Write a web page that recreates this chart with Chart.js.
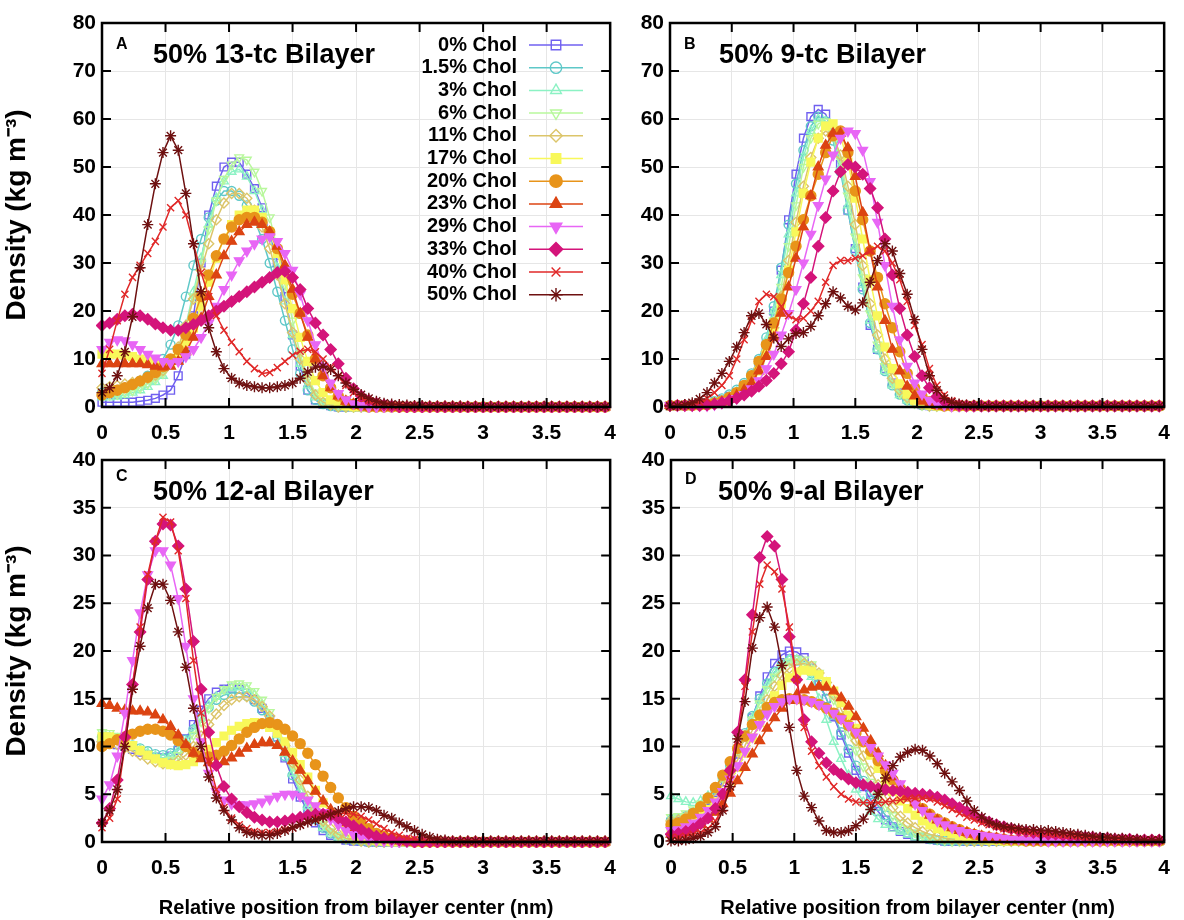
<!DOCTYPE html>
<html>
<head>
<meta charset="utf-8">
<title>Density profiles</title>
<script src="https://cdn.jsdelivr.net/npm/chart.js@4.4.1/dist/chart.umd.min.js"></script>
<style>
  html, body { margin: 0; padding: 0; background: #fff; }
  body { width: 1184px; height: 920px; overflow: hidden; position: relative; }
  .panel { position: absolute; }
</style>
</head>
<body>
<div class="panel" style="left:0;top:0"><canvas id="chartA" width="630" height="460"></canvas></div>
<div class="panel" style="left:555px;top:0"><canvas id="chartB" width="629" height="460"></canvas></div>
<div class="panel" style="left:0;top:430px"><canvas id="chartC" width="630" height="490"></canvas></div>
<div class="panel" style="left:555px;top:430px"><canvas id="chartD" width="629" height="490"></canvas></div>
<script>
// distance from bilayer centre (nm), shared by every series
const xs = [0,0.06,0.12,0.18,0.24,0.3,0.36,0.42,0.48,0.54,
  0.6,0.66,0.72,0.78,0.84,0.9,0.96,1.02,1.08,1.14,
  1.2,1.26,1.32,1.38,1.44,1.5,1.56,1.62,1.68,1.74,
  1.8,1.86,1.92,1.98,2.04,2.1,2.16,2.22,2.28,2.34,
  2.4,2.46,2.52,2.58,2.64,2.7,2.76,2.82,2.88,2.94,
  3,3.06,3.12,3.18,3.24,3.3,3.36,3.42,3.48,3.54,
  3.6,3.66,3.72,3.78,3.84,3.9,3.96];

const cholLabels = ["0% Chol","1.5% Chol","3% Chol","6% Chol","11% Chol","17% Chol",
  "20% Chol","23% Chol","29% Chol","33% Chol","40% Chol","50% Chol"];

// ---- A: 50% 13-tc bilayer ----
const A0 = [1,1,1,1,1,1.2,1.4,1.8,2.5,3.5,
  6.5,11,19,30,40,46,50,51,51,48.5,
  45.5,41.5,36,30,23,15,8.5,3.5,1.5,0.6,
  0.3,0,0,0,0,0,0,0,0,0,
  0,0,0,0,0,0,0,0,0,0,
  0,0,0,0,0,0,0,0,0,0,
  0,0,0,0,0,0,0];
const A1_5 = [3,3.2,3.5,4,4.6,5.5,6.5,8,10,13,
  17,23,29.5,35,39.5,43,45,45,44,42,
  39,35,30,24,18,12,7,3.5,1.5,0.6,
  0.2,0,0,0,0,0,0,0,0,0,
  0,0,0,0,0,0,0,0,0,0,
  0,0,0,0,0,0,0,0,0,0,
  0,0,0,0,0,0,0];
const A3 = [2,2,2.2,2.5,3,3.5,4.2,5.2,6.5,8.5,
  12,17,24,31,38,43.5,47,49,49.5,48,
  45,41,35.5,29,22,15,9,4.5,2,0.8,
  0.3,0,0,0,0,0,0,0,0,0,
  0,0,0,0,0,0,0,0,0,0,
  0,0,0,0,0,0,0,0,0,0,
  0,0,0,0,0,0,0];
const A6 = [2.5,2.5,2.7,3,3.4,4,4.8,5.8,7,9,
  12,16.5,23,30,37,43,47.5,50.5,52,51.5,
  49,45,39.5,33,25.5,18,11,6,3,1.2,
  0.5,0.2,0,0,0,0,0,0,0,0,
  0,0,0,0,0,0,0,0,0,0,
  0,0,0,0,0,0,0,0,0,0,
  0,0,0,0,0,0,0];
const A11 = [4,4.2,4.5,4.8,5.1,5.5,6,6.6,7.6,9.2,
  12.5,17,22.5,28.5,34,39,42.5,44.5,44.5,43.5,
  41,37.5,33,27.5,21.5,15.5,10,5.5,2.5,1,
  0.4,0,0,0,0,0,0,0,0,0,
  0,0,0,0,0,0,0,0,0,0,
  0,0,0,0,0,0,0,0,0,0,
  0,0,0,0,0,0,0];
const A17 = [11,11,11,10.8,10.5,10,9.5,9,8.8,9.2,
  10.5,13,16.5,21,26,31,35,38,40,41,
  41,39.5,36.5,32,26.5,20.5,14.5,9.5,5.5,3,
  1.5,0.7,0.3,0,0,0,0,0,0,0,
  0,0,0,0,0,0,0,0,0,0,
  0,0,0,0,0,0,0,0,0,0,
  0,0,0,0,0,0,0];
const A20 = [2.5,3,3.5,4,4.7,5.4,6.2,7.2,8.4,10,
  12,15,18.5,23,27.5,31.5,35,37.5,39,39.5,
  39.5,38.5,36.5,33,28.5,23.5,19.5,15,10,6.5,
  4,2.3,1.2,0.6,0.3,0,0,0,0,0,
  0,0,0,0,0,0,0,0,0,0,
  0,0,0,0,0,0,0,0,0,0,
  0,0,0,0,0,0,0];
const A23 = [9,9,9,9,9,9,8.8,8.5,8.3,8.5,
  9.5,11.5,14.5,18.5,23,27.5,31.5,34.5,36.5,38,
  38.5,38,36.5,33.5,29.5,24.5,19.5,14.5,10,6.5,
  4,2.3,1.2,0.6,0.3,0,0,0,0,0,
  0,0,0,0,0,0,0,0,0,0,
  0,0,0,0,0,0,0,0,0,0,
  0,0,0,0,0,0,0];
const A29 = [12,13.5,14,13.8,13,12,11,10.2,9.5,9.2,
  9.5,10.5,12,14.5,17.5,21,24.5,27.5,30.5,32.5,
  34,35,35.5,34.5,32,28.5,23.5,18,13,8.5,
  5,2.8,1.5,0.7,0.3,0,0,0,0,0,
  0,0,0,0,0,0,0,0,0,0,
  0,0,0,0,0,0,0,0,0,0,
  0,0,0,0,0,0,0];
const A33 = [17,17.5,18.3,19,19.3,19,18.3,17.3,16.5,16,
  16,16.5,17.2,18,19,20,21,22,23,24,
  25,26,27,28,28.3,27,24.5,20.5,17.5,15,
  12,9,6,3.8,2.3,1.4,0.8,0.4,0.2,0,
  0,0,0,0,0,0,0,0,0,0,
  0,0,0,0,0,0,0,0,0,0,
  0,0,0,0,0,0,0];
const A40 = [7,12,18,23.5,27,29.5,32,34.5,37.5,41.5,
  43,40,34,28,23,19,16,13.5,11.5,9.5,
  8,7,7.2,8.2,9.5,10.8,11.6,12,11.5,10,
  8.3,6.3,4.5,3,2,1.3,0.8,0.5,0.3,0.2,
  0.1,0.1,0,0,0,0,0,0,0,0,
  0,0,0,0,0,0,0,0,0,0,
  0,0,0,0,0,0,0];
const A50 = [3,4,6.5,11.5,18.8,29,38,46.5,53,56.5,
  53.5,44.5,34,24,16.5,11.5,8,6,5,4.5,
  4.2,4,4,4.2,4.5,5,6,7.3,8.3,8.5,
  7.8,6.5,5,3.7,2.6,1.8,1.2,0.8,0.6,0.5,
  0.4,0.3,0.3,0.2,0.2,0.2,0.2,0.2,0.1,0.1,
  0.1,0.1,0.1,0.1,0.1,0.1,0.1,0.1,0.1,0.1,
  0.1,0.1,0.1,0.1,0.1,0.1,0.1];

// ---- B: 50% 9-tc bilayer ----
const B0 = [0.3,0.3,0.3,0.4,0.5,0.7,1,1.5,2.2,3,
  4,6,8.5,13,20,28.5,39,48.5,56,60.5,
  62,61,57,50.5,41,33,25,17,12,8,
  5,3,1.7,0.9,0.5,0.3,0.2,0.2,0.2,0.2,
  0.2,0.2,0.2,0.2,0.2,0.2,0.2,0.2,0.2,0.2,
  0.2,0.2,0.2,0.2,0.2,0.2,0.2,0.2,0.2,0.2,
  0.2,0.2,0.2,0.2,0.2,0.2,0.2];
const B1_5 = [0.3,0.3,0.3,0.4,0.6,0.8,1.2,1.8,2.6,3.6,
  5,7,10,14.5,21,29,38,46.5,53.5,58.5,
  60.5,59.5,55.5,49,41,32.5,24.5,17.5,12,7.5,
  4.5,2.6,1.4,0.8,0.4,0.3,0.2,0.2,0.2,0.2,
  0.2,0.2,0.2,0.2,0.2,0.2,0.2,0.2,0.2,0.2,
  0.2,0.2,0.2,0.2,0.2,0.2,0.2,0.2,0.2,0.2,
  0.2,0.2,0.2,0.2,0.2,0.2,0.2];
const B3 = [0.3,0.3,0.3,0.4,0.5,0.7,1,1.5,2.2,3.2,
  4.5,6.5,9.5,14,20,27.5,36,44.5,52,57.5,
  60,59.5,56,50,42,33.5,25.5,18,12,7.5,
  4.5,2.5,1.4,0.8,0.4,0.2,0.2,0.2,0.2,0.2,
  0.2,0.2,0.2,0.2,0.2,0.2,0.2,0.2,0.2,0.2,
  0.2,0.2,0.2,0.2,0.2,0.2,0.2,0.2,0.2,0.2,
  0.2,0.2,0.2,0.2,0.2,0.2,0.2];
const B6 = [0.3,0.3,0.3,0.3,0.4,0.6,0.9,1.3,2,2.8,
  4,5.8,8.5,12.5,18,25,33.5,42,50,56,
  59,59.5,57,51.5,44,35.5,27,19.5,13,8.5,
  5,2.8,1.5,0.8,0.4,0.2,0.2,0.2,0.2,0.2,
  0.2,0.2,0.2,0.2,0.2,0.2,0.2,0.2,0.2,0.2,
  0.2,0.2,0.2,0.2,0.2,0.2,0.2,0.2,0.2,0.2,
  0.2,0.2,0.2,0.2,0.2,0.2,0.2];
const B11 = [0.3,0.3,0.3,0.3,0.4,0.6,0.9,1.3,2,2.8,
  4,5.5,8,11.5,16.5,23,30.5,38.5,46,52,
  56,57.5,56.5,52.5,46,38,29.5,21.5,15,10,
  6,3.5,2,1,0.5,0.2,0.2,0.2,0.2,0.2,
  0.2,0.2,0.2,0.2,0.2,0.2,0.2,0.2,0.2,0.2,
  0.2,0.2,0.2,0.2,0.2,0.2,0.2,0.2,0.2,0.2,
  0.2,0.2,0.2,0.2,0.2,0.2,0.2];
const B17 = [0.3,0.3,0.3,0.3,0.4,0.5,0.8,1.2,1.8,2.6,
  3.7,5.2,7.5,11,15.5,21.5,28.5,36.5,44.5,51,
  56,58.5,59,56.5,51,43.5,35,26.5,19,12.5,
  8,4.8,2.7,1.4,0.7,0.4,0.2,0.2,0.2,0.2,
  0.2,0.2,0.2,0.2,0.2,0.2,0.2,0.2,0.2,0.2,
  0.2,0.2,0.2,0.2,0.2,0.2,0.2,0.2,0.2,0.2,
  0.2,0.2,0.2,0.2,0.2,0.2,0.2];
const B20 = [0.3,0.3,0.3,0.3,0.4,0.5,0.8,1.2,2,3,
  4.5,6.5,9.5,13,17.5,22.5,28,33.5,39,44,
  48.5,53,56.5,57.5,53,45,39,32.5,27,21.5,
  16.5,11.5,7,4,2.2,1.1,0.5,0.2,0.2,0.2,
  0.2,0.2,0.2,0.2,0.2,0.2,0.2,0.2,0.2,0.2,
  0.2,0.2,0.2,0.2,0.2,0.2,0.2,0.2,0.2,0.2,
  0.2,0.2,0.2,0.2,0.2,0.2,0.2];
const B23 = [0.3,0.3,0.3,0.3,0.4,0.5,0.7,1,1.6,2.4,
  3.5,5,7.5,10.5,14.5,19.5,25,31,37.5,44,
  50,54.5,57,57,54,48,40.5,32.5,25,18,
  12,7.5,4.3,2.3,1.2,0.6,0.3,0.2,0.2,0.2,
  0.2,0.2,0.2,0.2,0.2,0.2,0.2,0.2,0.2,0.2,
  0.2,0.2,0.2,0.2,0.2,0.2,0.2,0.2,0.2,0.2,
  0.2,0.2,0.2,0.2,0.2,0.2,0.2];
const B29 = [0.3,0.3,0.3,0.3,0.3,0.3,0.5,0.8,1.2,1.8,
  2.6,3.8,5.5,8,11,15,19.5,24.5,30,36,
  42,47.5,52.5,56,57.5,57,53.5,47,38.5,29.5,
  21,14,8.5,5,2.7,1.4,0.7,0.4,0.2,0.2,
  0.2,0.2,0.2,0.2,0.2,0.2,0.2,0.2,0.2,0.2,
  0.2,0.2,0.2,0.2,0.2,0.2,0.2,0.2,0.2,0.2,
  0.2,0.2,0.2,0.2,0.2,0.2,0.2];
const B33 = [0.3,0.3,0.3,0.3,0.3,0.4,0.6,0.9,1.3,1.8,
  2.5,3.3,4.3,5.5,7,9,11.5,16,21.5,27,
  33.5,39.5,45,49,50.5,50,48.5,45.5,41.5,35,
  27.5,20.5,15,10.5,6.5,4,2.2,1.2,0.6,0.3,
  0.2,0.2,0.2,0.2,0.2,0.2,0.2,0.2,0.2,0.2,
  0.2,0.2,0.2,0.2,0.2,0.2,0.2,0.2,0.2,0.2,
  0.2,0.2,0.2,0.2,0.2,0.2,0.2];
const B40 = [0.2,0.2,0.3,0.5,1,1.8,3,4.5,6.5,10,
  14,18,22,23.5,23,21,19,18.2,18.5,20,
  22,26,29.5,30.5,30.5,31,31.5,32.5,33.5,32.5,
  30,26.5,22,17,13,8,4.5,2.5,1.3,0.7,
  0.4,0.2,0.2,0.2,0.2,0.2,0.2,0.2,0.2,0.2,
  0.2,0.2,0.2,0.2,0.2,0.2,0.2,0.2,0.2,0.2,
  0.2,0.2,0.2,0.2,0.2,0.2,0.2];
const B50 = [0.2,0.3,0.5,0.9,1.7,3,5,7,9.5,12.5,
  15.5,19,19.5,17.2,14.4,12.6,14.2,15.3,15.5,16.8,
  19,21.5,24,22.7,21,20.2,21.7,26,30.5,34,
  32.5,27.8,23.5,18.2,12,6.5,3.5,1.8,1,0.6,
  0.4,0.3,0.2,0.2,0.2,0.2,0.2,0.2,0.2,0.2,
  0.2,0.2,0.2,0.2,0.2,0.2,0.2,0.2,0.2,0.2,
  0.2,0.2,0.2,0.2,0.2,0.2,0.2];

// ---- C: 50% 12-al bilayer ----
const C0 = [10.5,10.4,10.2,10,9.7,9.4,9.1,8.9,8.8,9,
  9.6,10.8,12.3,13.8,15,15.7,16,16.1,16,15.6,
  14.9,14,12.8,11,8.8,6.6,4.7,3.2,2,1.2,
  0.7,0.4,0.2,0.1,0.1,0,0,0,0,0,
  0,0,0,0,0,0,0,0,0,0,
  0,0,0,0,0,0,0,0,0,0,
  0,0,0,0,0,0,0];
const C1_5 = [11,10.9,10.7,10.4,10.1,9.8,9.5,9.2,9.1,9.3,
  9.8,10.7,11.8,13,14.1,14.9,15.4,15.6,15.6,15.3,
  14.7,13.8,12.5,10.9,9,7,5.2,3.6,2.4,1.5,
  0.9,0.5,0.3,0.2,0.1,0,0,0,0,0,
  0,0,0,0,0,0,0,0,0,0,
  0,0,0,0,0,0,0,0,0,0,
  0,0,0,0,0,0,0];
const C3 = [11,11,10.8,10.5,10.1,9.7,9.3,9,8.8,9,
  9.6,10.5,11.7,13,14.3,15.2,15.8,16.1,16.2,16,
  15.4,14.4,13,11.2,9.2,7.2,5.3,3.7,2.4,1.5,
  0.9,0.5,0.3,0.2,0.1,0,0,0,0,0,
  0,0,0,0,0,0,0,0,0,0,
  0,0,0,0,0,0,0,0,0,0,
  0,0,0,0,0,0,0];
const C6 = [11.5,11.4,11.1,10.7,10.2,9.7,9.2,8.8,8.5,8.6,
  9.1,10,11.2,12.6,14,15.2,16,16.5,16.6,16.4,
  15.8,14.9,13.6,11.9,10,8,6.1,4.4,3,1.9,
  1.1,0.6,0.3,0.2,0.1,0,0,0,0,0,
  0,0,0,0,0,0,0,0,0,0,
  0,0,0,0,0,0,0,0,0,0,
  0,0,0,0,0,0,0];
const C11 = [10.5,10.4,10.2,9.9,9.5,9.1,8.7,8.4,8.2,8.2,
  8.5,9.1,10,11.1,12.3,13.4,14.3,14.9,15.2,15.2,
  14.9,14.2,13.2,11.8,10.1,8.3,6.5,4.8,3.4,2.2,
  1.4,0.8,0.4,0.2,0.1,0,0,0,0,0,
  0,0,0,0,0,0,0,0,0,0,
  0,0,0,0,0,0,0,0,0,0,
  0,0,0,0,0,0,0];
const C17 = [11,11,10.8,10.5,10.1,9.6,9.1,8.7,8.3,8.1,
  8,8.1,8.4,9,9.7,10.4,11.1,11.7,12.1,12.4,
  12.5,12.4,12,11.4,10.5,9.4,8.1,6.8,5.4,4.1,
  3,2.1,1.4,0.9,0.5,0.3,0.2,0.1,0,0,
  0,0,0,0,0,0,0,0,0,0,
  0,0,0,0,0,0,0,0,0,0,
  0,0,0,0,0,0,0];
const C20 = [10,10.3,10.7,11,11.3,11.6,11.8,11.8,11.6,11.2,
  10.6,10,9.4,9,8.9,9.1,9.5,10.1,10.8,11.5,
  12,12.4,12.5,12.3,11.8,11.1,10.3,9.3,8.1,6.9,
  5.7,4.6,3.6,2.7,2,1.4,0.9,0.6,0.4,0.2,
  0.1,0,0,0,0,0,0,0,0,0,
  0,0,0,0,0,0,0,0,0,0,
  0,0,0,0,0,0,0];
const C23 = [14.5,14.3,14,13.8,13.7,13.7,13.6,13.3,12.8,12.1,
  11.2,10.2,9.3,8.7,8.3,8.2,8.4,8.8,9.3,9.8,
  10.2,10.4,10.4,10.1,9.4,8.5,7.5,6.4,5.3,4.3,
  3.4,2.6,2,1.4,1,0.7,0.4,0.3,0.2,0.1,
  0,0,0,0,0,0,0,0,0,0,
  0,0,0,0,0,0,0,0,0,0,
  0,0,0,0,0,0,0];
const C29 = [4.5,6,9,13.5,19,24,28,30.5,30.5,29,
  25.5,20.5,15,10.5,7.2,5.3,4.4,4,3.9,3.9,
  4,4.2,4.5,4.8,5,5,4.8,4.4,3.8,3.1,
  2.4,1.8,1.2,0.8,0.5,0.3,0.2,0.1,0,0,
  0,0,0,0,0,0,0,0,0,0,
  0,0,0,0,0,0,0,0,0,0,
  0,0,0,0,0,0,0];
const C33 = [2,3.5,6.5,11,16.5,22,27.5,31.5,33.3,33.2,
  31,26.5,21,16,11.5,8,5.8,4.5,3.7,3.1,
  2.6,2.3,2.1,2.1,2.2,2.4,2.6,2.8,2.9,2.9,
  2.8,2.5,2.1,1.7,1.3,0.9,0.6,0.4,0.3,0.2,
  0.1,0,0,0,0,0,0,0,0,0,
  0,0,0,0,0,0,0,0,0,0,
  0,0,0,0,0,0,0];
const C40 = [1.5,2.5,4.5,10,16,22.5,28,31.5,34,33.5,
  30.5,25.5,19,13.5,8.5,5.5,3.6,2.5,1.8,1.4,
  1.1,1,1,1.1,1.3,1.5,1.8,2.1,2.4,2.7,
  2.9,3,3,2.9,2.7,2.3,1.9,1.4,1,0.7,
  0.4,0.3,0.2,0.1,0.1,0,0,0,0,0,
  0,0,0,0,0,0,0,0,0,0,
  0,0,0,0,0,0,0];
const C50 = [2,3.3,5.5,10,16,20.5,24.5,27,27,25.3,
  22,18.3,14,10,6.8,4.6,3.3,2.3,1.5,1,
  0.8,0.7,0.7,0.9,1.2,1.5,1.8,2.1,2.3,2.6,
  2.9,3.2,3.5,3.7,3.7,3.6,3.3,2.8,2.5,2,
  1.6,1.2,0.8,0.5,0.3,0.2,0.1,0.1,0.1,0.1,
  0.1,0.1,0.1,0.1,0.1,0.1,0.1,0.1,0.1,0.1,
  0.1,0.1,0.1,0.1,0.1,0.1,0.1];

// ---- D: 50% 9-al bilayer ----
const D0 = [2,2.2,2.5,3,3.6,4.3,5.2,6.3,7.6,9.2,
  11,13,15.3,17.3,18.7,19.6,20,19.9,19.3,18.2,
  16.8,15,13.1,11.2,9.3,7.5,5.8,4.4,3.2,2.3,
  1.6,1.1,0.8,0.6,0.4,0.3,0.2,0.1,0.1,0.1,
  0.1,0.1,0.1,0.1,0.1,0.1,0.1,0.1,0.1,0.1,
  0.1,0.1,0.1,0.1,0.1,0.1,0.1,0.1,0.1,0.1,
  0.1,0.1,0.1,0.1,0.1,0.1,0.1];
const D1_5 = [2.3,2.4,2.7,3.1,3.7,4.5,5.5,6.7,8.1,9.7,
  11.4,13.2,15,16.6,17.8,18.6,19,19,18.6,17.7,
  16.5,15,13.3,11.5,9.7,8,6.4,5,3.8,2.8,
  2,1.4,1,0.7,0.5,0.3,0.2,0.1,0.1,0.1,
  0.1,0.1,0.1,0.1,0.1,0.1,0.1,0.1,0.1,0.1,
  0.1,0.1,0.1,0.1,0.1,0.1,0.1,0.1,0.1,0.1,
  0.1,0.1,0.1,0.1,0.1,0.1,0.1];
const D3 = [4.8,4.5,4.2,4.1,4.3,4.8,5.6,6.7,8,9.5,
  11.2,13,14.8,16.4,17.7,18.6,19.1,19.1,18.6,17.3,
  15,12.8,10.5,8.7,7,5.5,4.2,3.2,2.4,1.8,
  1.4,1.1,0.8,0.5,0.4,0.3,0.2,0.1,0.1,0.1,
  0.1,0.1,0.1,0.1,0.1,0.1,0.1,0.1,0.1,0.1,
  0.1,0.1,0.1,0.1,0.1,0.1,0.1,0.1,0.1,0.1,
  0.1,0.1,0.1,0.1,0.1,0.1,0.1];
const D6 = [2.6,2.7,3,3.4,4,4.7,5.6,6.7,8,9.5,
  11.1,12.8,14.5,16,17.3,18.3,18.9,19.2,19.1,18.6,
  17.7,16.4,14.9,13.2,11.4,9.6,7.9,6.3,4.9,3.7,
  2.8,2,1.4,1,0.7,0.5,0.3,0.2,0.1,0.1,
  0.1,0.1,0.1,0.1,0.1,0.1,0.1,0.1,0.1,0.1,
  0.1,0.1,0.1,0.1,0.1,0.1,0.1,0.1,0.1,0.1,
  0.1,0.1,0.1,0.1,0.1,0.1,0.1];
const D11 = [2.2,2.3,2.6,3,3.5,4.2,5,6,7.2,8.6,
  10.1,11.7,13.3,14.9,16.3,17.4,18.2,18.6,18.7,18.4,
  17.7,16.7,15.4,13.9,12.3,10.6,9,7.4,6,4.7,
  3.6,2.7,2,1.5,1.1,0.8,0.6,0.4,0.3,0.2,
  0.1,0.1,0.1,0.1,0.1,0.1,0.1,0.1,0.1,0.1,
  0.1,0.1,0.1,0.1,0.1,0.1,0.1,0.1,0.1,0.1,
  0.1,0.1,0.1,0.1,0.1,0.1,0.1];
const D17 = [1.5,1.6,1.9,2.3,2.8,3.4,4.2,5.2,6.4,7.8,
  9.3,10.9,12.5,14,15.3,16.4,17.2,17.8,18,17.9,
  17.5,16.8,15.8,14.6,13.3,11.9,10.5,9.1,7.7,6.4,
  5.3,4.3,3.5,2.8,2.2,1.8,1.4,1.1,0.9,0.7,
  0.5,0.4,0.3,0.2,0.2,0.1,0.1,0.1,0.1,0.1,
  0.1,0.1,0.1,0.1,0.1,0.1,0.1,0.1,0.1,0.1,
  0.1,0.1,0.1,0.1,0.1,0.1,0.1];
const D20 = [1.8,2,2.4,3,3.7,4.6,5.7,7,8.4,9.8,
  11.1,12.3,13.3,14.1,14.6,14.9,15,15,14.9,14.7,
  14.4,14,13.5,12.9,12.2,11.4,10.5,9.5,8.5,7.5,
  6.5,5.6,4.8,4.1,3.5,2.9,2.4,2,1.6,1.3,
  1,0.8,0.6,0.5,0.4,0.3,0.2,0.2,0.1,0.1,
  0.1,0.1,0.1,0.1,0.1,0.1,0.1,0.1,0.1,0.1,
  0.1,0.1,0.1,0.1,0.1,0.1,0.1];
const D23 = [0.8,0.9,1.1,1.4,1.8,2.4,3.1,4,5.1,6.4,
  7.8,9.2,10.6,11.9,13,14,14.8,15.4,15.9,16.2,
  16.3,16.2,15.8,15.1,14.2,13.1,11.9,10.6,9.3,8,
  6.8,5.8,4.9,4.1,3.4,2.8,2.3,1.9,1.5,1.2,
  1,0.8,0.6,0.5,0.4,0.3,0.2,0.2,0.1,0.1,
  0.1,0.1,0.1,0.1,0.1,0.1,0.1,0.1,0.1,0.1,
  0.1,0.1,0.1,0.1,0.1,0.1,0.1];
const D29 = [1.2,1.3,1.6,2,2.6,3.3,4.2,5.3,6.6,8,
  9.5,11,12.3,13.4,14.2,14.7,15,15,14.9,14.7,
  14.4,14,13.5,12.9,12.2,11.5,10.7,9.9,9,8.1,
  7.2,6.1,5,4,3.3,2.7,2.2,1.8,1.5,1.2,
  1,0.9,0.7,0.6,0.5,0.4,0.3,0.3,0.2,0.2,
  0.2,0.1,0.1,0.1,0.1,0.1,0.1,0.1,0.1,0.1,
  0.1,0.1,0.1,0.1,0.1,0.1,0.1];
const D33 = [0.8,0.9,1.1,1.4,1.9,2.5,3.5,5,7.5,11.5,
  17,23.8,29.8,32,31,27.5,21.5,17,12.8,10.5,
  9.3,8.3,7.6,7.1,6.6,6.2,6,5.8,5.6,5.5,
  5.4,5.3,5.2,5.1,5,4.9,4.7,4.4,4,3.6,
  3.2,2.8,2.4,2.1,1.8,1.6,1.4,1.2,1.1,1,
  0.9,0.8,0.8,0.7,0.6,0.6,0.5,0.5,0.4,0.4,
  0.3,0.3,0.3,0.2,0.2,0.2,0.2];
const D40 = [0.5,0.5,0.6,0.8,1,1.4,2.2,3.5,6.5,10.5,
  16.3,22,27,29,28.3,26.5,22.5,17,12,9.5,
  8,6.8,5.8,5,4.5,4.2,4.1,4.1,4.1,4.2,
  4.3,4.4,4.5,4.6,4.6,4.5,4.2,3.8,3.4,3,
  2.6,2.3,2,1.8,1.6,1.4,1.3,1.2,1.1,1,
  0.9,0.9,0.8,0.7,0.7,0.6,0.5,0.5,0.4,0.4,
  0.3,0.3,0.3,0.2,0.2,0.2,0.2];
const D50 = [0.1,0.1,0.2,0.4,0.6,1,1.6,3.3,5.8,10.8,
  14.7,20.3,23.5,24.6,22.5,18.5,12,7.5,4.8,3.6,
  2.2,1.2,1,1,1.2,1.7,2.4,3.4,5,6.7,
  8,8.9,9.4,9.7,9.6,9,8.2,7.2,6.3,5.4,
  4.3,3.3,2.6,2.1,1.8,1.6,1.5,1.4,1.3,1.3,
  1.2,1.2,1.1,1,0.9,0.8,0.7,0.6,0.5,0.5,
  0.4,0.4,0.3,0.3,0.2,0.2,0.2];

const yTicksTop = { max: 80, step: 10 };
const yTicksBottom = { max: 40, step: 5 };

// ---- styling ----
const FONT = '"Liberation Sans", Arial, Helvetica, sans-serif';
const seriesColors = ["#7060f0","#5ec8c8","#8cf2c4","#b8f89c","#dcc56a","#f8f85a",
  "#e8941a","#dc4412","#e866f5","#d4147a","#e02828","#6e1010"];
const markerStyle = ["rect","circle","triangle","triangle","rectRot","rect",
  "circle","triangle","triangle","rectRot","crossRot","star"];
const markerRotation = [0,0,0,180,0,0,0,0,180,0,0,0];
const markerFilled = [false,false,false,false,false,true,true,true,true,true,false,false];
const markerRadius = [5.5,4.5,5,5,5,5.5,5,5.5,5.5,5.5,5,5.5];

Chart.defaults.font.family = FONT;
Chart.defaults.color = "#000";

function buildDatasets(series) {
  return series.map((vals, i) => ({
    label: cholLabels[i],
    data: vals.map((v, k) => ({ x: xs[k], y: v })),
    borderColor: seriesColors[i],
    backgroundColor: seriesColors[i],
    borderWidth: 1.5,
    pointStyle: markerStyle[i],
    pointRotation: markerRotation[i],
    pointRadius: markerRadius[i],
    pointBorderWidth: 1.4,
    pointBorderColor: seriesColors[i],
    pointBackgroundColor: markerFilled[i] ? seriesColors[i] : "rgba(0,0,0,0)",
    tension: 0,
    order: series.length - i,
    clip: 6
  }));
}

function drawLegend(chart) {
  const { ctx, chartArea: a } = chart;
  ctx.font = "bold 20px " + FONT;
  ctx.textAlign = "right";
  ctx.textBaseline = "middle";
  chart.data.datasets.forEach((ds, i) => {
    const yy = a.top + 22 + i * 22.7;
    ctx.fillStyle = "#000";
    ctx.fillText(ds.label, a.left + 415, yy);
    ctx.strokeStyle = ds.borderColor;
    ctx.lineWidth = 1.5;
    ctx.beginPath();
    ctx.moveTo(a.left + 427, yy);
    ctx.lineTo(a.left + 481, yy);
    ctx.stroke();
    ctx.fillStyle = ds.pointBackgroundColor;
    ctx.lineWidth = ds.pointBorderWidth;
    Chart.helpers.drawPoint(ctx, {
      pointStyle: ds.pointStyle, rotation: ds.pointRotation,
      radius: ds.pointRadius + 1.2, borderWidth: ds.pointBorderWidth
    }, a.left + 454, yy);
  });
}

// box, inward tick marks, panel letter and panel title
const framePlugin = {
  id: "frame",
  afterDraw(chart, args, opts) {
    const { ctx, chartArea: a } = chart;
    const x = chart.scales.x, y = chart.scales.y;
    ctx.save();
    ctx.strokeStyle = "#000";
    ctx.lineWidth = 2;
    ctx.beginPath();
    x.ticks.forEach(t => {
      const px = x.getPixelForValue(t.value);
      if (px <= a.left + 1 || px >= a.right - 1) return;
      ctx.moveTo(px, a.bottom); ctx.lineTo(px, a.bottom - 9);
      ctx.moveTo(px, a.top); ctx.lineTo(px, a.top + 9);
    });
    y.ticks.forEach(t => {
      const py = y.getPixelForValue(t.value);
      if (py <= a.top + 1 || py >= a.bottom - 1) return;
      ctx.moveTo(a.left, py); ctx.lineTo(a.left + 9, py);
      ctx.moveTo(a.right, py); ctx.lineTo(a.right - 9, py);
    });
    ctx.stroke();
    ctx.lineWidth = 2.5;
    ctx.strokeRect(a.left, a.top, a.right - a.left, a.bottom - a.top);

    ctx.fillStyle = "#000";
    ctx.textAlign = "left";
    ctx.textBaseline = "middle";
    ctx.font = "bold 16px " + FONT;
    ctx.fillText(opts.letter, a.left + 14, a.top + opts.letterDy);
    ctx.font = "bold 27px " + FONT;
    ctx.fillText(opts.title, a.left + opts.titleDx, a.top + 33);
    if (opts.legend) drawLegend(chart);
    ctx.restore();
  }
};

function makePanel(id, series, cfg) {
  const tickFont = { size: 21, weight: "bold" };
  return new Chart(document.getElementById(id), {
    type: "line",
    data: { datasets: buildDatasets(series) },
    options: {
      responsive: false,
      animation: false,
      events: [],
      layout: { padding: cfg.padding },
      plugins: {
        legend: { display: false },
        tooltip: { enabled: false },
        frame: { letter: cfg.letter, title: cfg.title, letterDy: cfg.letterDy, titleDx: cfg.titleDx, legend: !!cfg.legend }
      },
      scales: {
        x: {
          type: "linear", min: 0, max: 4,
          ticks: { stepSize: 0.5, padding: 14, font: tickFont, maxRotation: 0, autoSkip: false, callback: v => String(v) },
          grid: { color: "#e6e6e6", lineWidth: 1, drawTicks: false },
          border: { display: false },
          title: {
            display: !!cfg.xTitle, text: "Relative position from bilayer center (nm)",
            font: { size: 20, weight: "bold" }, padding: { top: 0, bottom: 0 }
          },
          afterFit: s => { s.height = cfg.xHeight; }
        },
        y: {
          type: "linear", min: 0, max: cfg.yTicks.max,
          ticks: { stepSize: cfg.yTicks.step, padding: 6, font: tickFont },
          grid: { color: "#e6e6e6", lineWidth: 1, drawTicks: false },
          border: { display: false },
          title: {
            display: !!cfg.yTitle, text: "Density (kg m\u207B\u00B3)",
            font: { size: 28, weight: "bold" }, padding: { top: 0, bottom: 0 }
          },
          afterFit: s => { s.width = cfg.yWidth; }
        }
      }
    },
    plugins: [framePlugin]
  });
}

makePanel("chartA", [A0, A1_5, A3, A6, A11, A17, A20, A23, A29, A33, A40, A50], {
  letter: "A", title: "50% 13-tc Bilayer", letterDy: 22, titleDx: 51, legend: true,
  yTicks: yTicksTop, yTitle: true, xTitle: false,
  yWidth: 102, xHeight: 53, padding: { top: 23, right: 19, left: 0, bottom: 0 }
});
makePanel("chartB", [B0, B1_5, B3, B6, B11, B17, B20, B23, B29, B33, B40, B50], {
  letter: "B", title: "50% 9-tc Bilayer", letterDy: 22, titleDx: 49,
  yTicks: yTicksTop, yTitle: false, xTitle: false,
  yWidth: 115, xHeight: 53, padding: { top: 23, right: 7, left: 0, bottom: 0 }
});
makePanel("chartC", [C0, C1_5, C3, C6, C11, C17, C20, C23, C29, C33, C40, C50], {
  letter: "C", title: "50% 12-al Bilayer", letterDy: 17, titleDx: 51,
  yTicks: yTicksBottom, yTitle: true, xTitle: true,
  yWidth: 102, xHeight: 78, padding: { top: 30, right: 19, left: 0, bottom: 0 }
});
makePanel("chartD", [D0, D1_5, D3, D6, D11, D17, D20, D23, D29, D33, D40, D50], {
  letter: "D", title: "50% 9-al Bilayer", letterDy: 20, titleDx: 47,
  yTicks: yTicksBottom, yTitle: false, xTitle: true,
  yWidth: 116, xHeight: 78, padding: { top: 30, right: 7, left: 0, bottom: 0 }
});
</script>
</body>
</html>
